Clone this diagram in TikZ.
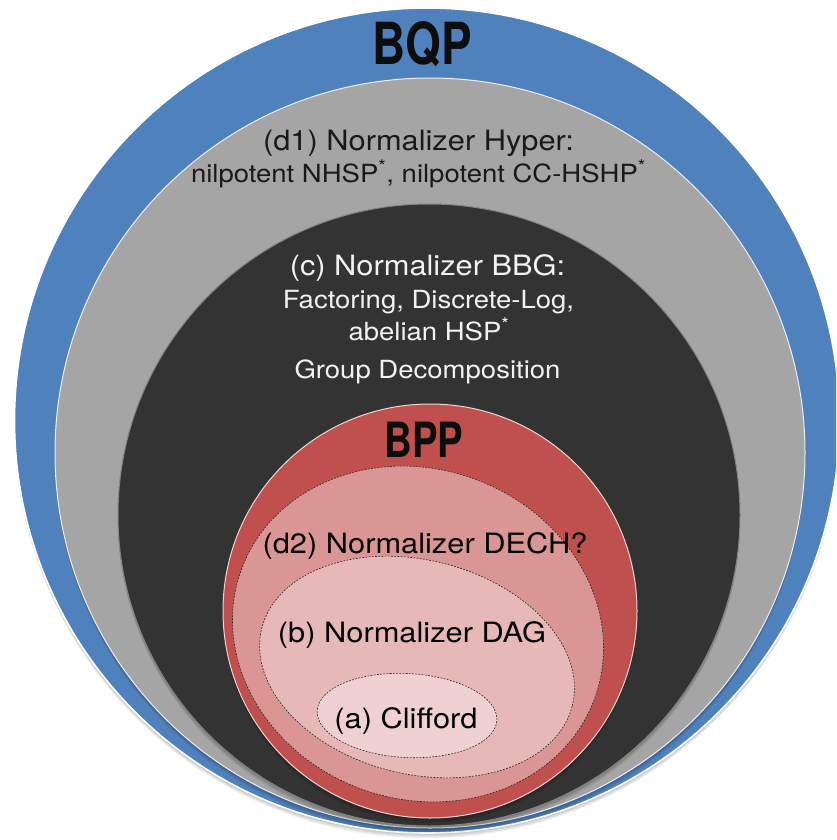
\documentclass[tikz,border=0pt]{standalone}
\usepackage{fontspec}
\setmainfont{TeX Gyre Heros}
\usepackage{graphicx}
\definecolor{cblue}{HTML}{4F81BD}
\definecolor{cgray}{HTML}{A5A5A5}
\definecolor{cdark}{HTML}{333333}
\definecolor{cred}{HTML}{C0504D}
\definecolor{cdtwo}{HTML}{D99694}
\definecolor{cbfill}{HTML}{E6B9B8}
\definecolor{cafill}{HTML}{EED1D0}
\definecolor{cedge}{HTML}{EDEDED}
\newcommand\mainline[1]{\scalebox{1.1}[1]{\fontsize{28}{30}\selectfont #1}}
\newcommand\subline[1]{\scalebox{1.1}[1]{\fontsize{25}{27}\selectfont #1}}
\newcommand\bigtitle[2]{\scalebox{0.79}[1]{\fontsize{#1}{#1}\selectfont\bfseries #2}}
\newcommand\layershadow[3]{%
  \foreach \k in {1,...,6}{\fill[black,opacity=0.045] (#1,-#2-\k*0.9) circle[radius=#3pt];}}
\tikzset{
  layer/.style={draw=cedge, line width=1pt},
  dashring/.style={draw=black!85, line width=0.6pt, dash pattern=on 1.8pt off 1.4pt},
  lbl/.style={anchor=base, inner sep=0pt, outer sep=0pt}
}
\begin{document}
\begin{tikzpicture}[x=1pt,y=1pt]
\useasboundingbox (0,0) rectangle (836,-840);
\clip (0,0) rectangle (836,-840);
\fill[white] (0,0) rectangle (836,-840);

% BQP
\layershadow{427}{420.5}{412.5}
\filldraw[fill=cblue, draw=white, line width=1.6pt] (427,-420.5) circle[radius=412.5pt];
% d1 gray
\layershadow{430}{453}{375}
\filldraw[layer, fill=cgray] (430,-453) circle[radius=375pt];
% c dark
\layershadow{429}{515}{311}
\filldraw[layer, fill=cdark, draw=black!20!cgray] (429,-515) circle[radius=311pt];
% BPP red
\layershadow{430}{611}{207}
\filldraw[layer, fill=cred, draw=white!75!cred] (430,-611) circle[radius=207pt];
% d2
\filldraw[dashring, fill=cdtwo] (418,-634) ellipse[x radius=188pt, y radius=165pt, rotate=-20];
% b
\filldraw[dashring, fill=cbfill] (417,-667) ellipse[x radius=160pt, y radius=107pt, rotate=-14];
% a
\filldraw[dashring, fill=cafill] (407,-715.5) ellipse[x radius=90pt, y radius=42pt, rotate=-3];

% texts
\node[lbl, text=black!95] (bqp) at (422,-65) {\bigtitle{58}{BQP}};
\node[lbl, text=black!90] (d1a) at (418.5,-150) {\mainline{(d1) Normalizer Hyper:}};
\node[lbl, text=black!90] (d1b) at (418.5,-182) {\subline{nilpotent NHSP\textsuperscript{*}, nilpotent CC-HSHP\textsuperscript{*}}};
\node[lbl, text=white!95!black] (ca) at (427.5,-275) {\mainline{(c) Normalizer BBG:}};
\node[lbl, text=white!95!black] (cb) at (428.5,-308) {\subline{Factoring, Discrete-Log,}};
\node[lbl, text=white!95!black] (cc) at (429,-340) {\subline{abelian HSP\textsuperscript{*}}};
\node[lbl, text=white!95!black] (cd) at (427.5,-378) {\subline{Group Decomposition}};
\node[lbl, text=black!95] (bpp) at (424,-457) {\bigtitle{48.6}{BPP}};
\node[lbl, text=black] (d2) at (425,-553) {\mainline{(d2) Normalizer DECH?}};
\node[lbl, text=black] (b) at (412,-642) {\mainline{(b) Normalizer DAG}};
\node[lbl, text=black] (a) at (406,-728) {\mainline{(a) Clifford}};
\end{tikzpicture}
\end{document}
